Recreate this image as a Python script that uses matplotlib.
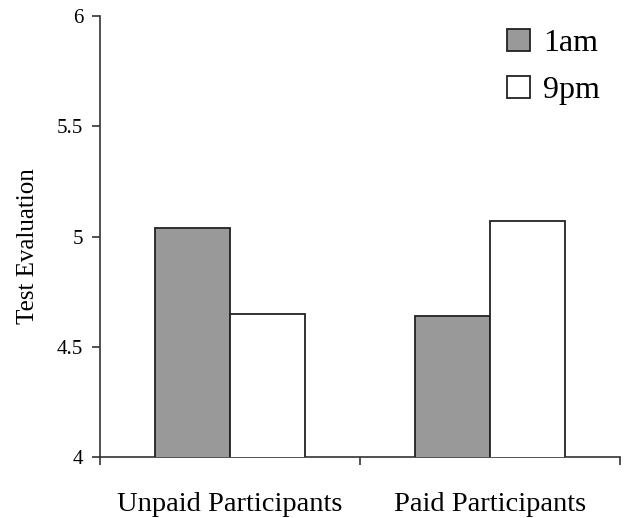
import matplotlib
matplotlib.use('Agg')
import matplotlib.pyplot as plt
import numpy as np

groups = ['Unpaid Participants', 'Paid Participants']
series = ['1am', '9pm']
am_vals = [5.04, 4.64]
pm_vals = [4.65, 5.07]
yticks = [4, 4.5, 5, 5.5, 6]
ytick_labels = ['4', '4.5', '5', '5.5', '6']

plt.rcParams['font.family'] = ['Liberation Serif', 'DejaVu Serif']

fig = plt.figure(figsize=(6.26, 5.18), dpi=100)
ax = fig.add_axes([100 / 626, 1 - 457 / 518, 520 / 626, 441 / 518])

x = np.arange(len(groups))
w = 0.288
ax.bar(x - w / 2, am_vals, w, color='#999999', edgecolor='#222222',
       linewidth=1.3, label=series[0], zorder=3)
ax.bar(x + w / 2, pm_vals, w, color='white', edgecolor='#222222',
       linewidth=1.3, label=series[1], zorder=3)

ax.set_ylim(4, 6)
ax.set_xlim(-0.5, 1.5)
ax.set_yticks(yticks)
ax.set_yticklabels(ytick_labels)

ax.set_xticks([-0.5, 0.5, 1.5])
ax.set_xticklabels(['', '', ''])
ax.set_xticks(x, minor=True)
ax.set_xticklabels(groups, minor=True, fontsize=20.5)
ax.tick_params(axis='x', which='minor', length=0, pad=25)
ax.tick_params(axis='x', which='major', length=6, width=1.2, color='#333333')
ax.tick_params(axis='y', length=6, width=1.2, color='#333333', labelsize=15, pad=6)

for s in ['top', 'right']:
    ax.spines[s].set_visible(False)
for s in ['left', 'bottom']:
    ax.spines[s].set_color('#333333')
    ax.spines[s].set_linewidth(1.2)

ax.set_ylabel('Test Evaluation', fontsize=18)
ax.yaxis.set_label_coords(-0.118, 0.478)

ax.legend(loc='upper right', bbox_to_anchor=(600 / 626, 1 - 29 / 518),
          bbox_transform=fig.transFigure, frameon=False, fontsize=23,
          handlelength=0.72, handleheight=0.7, handletextpad=0.4,
          labelspacing=0.55, borderpad=0, borderaxespad=0)

fig.savefig('out.png', dpi=100)
